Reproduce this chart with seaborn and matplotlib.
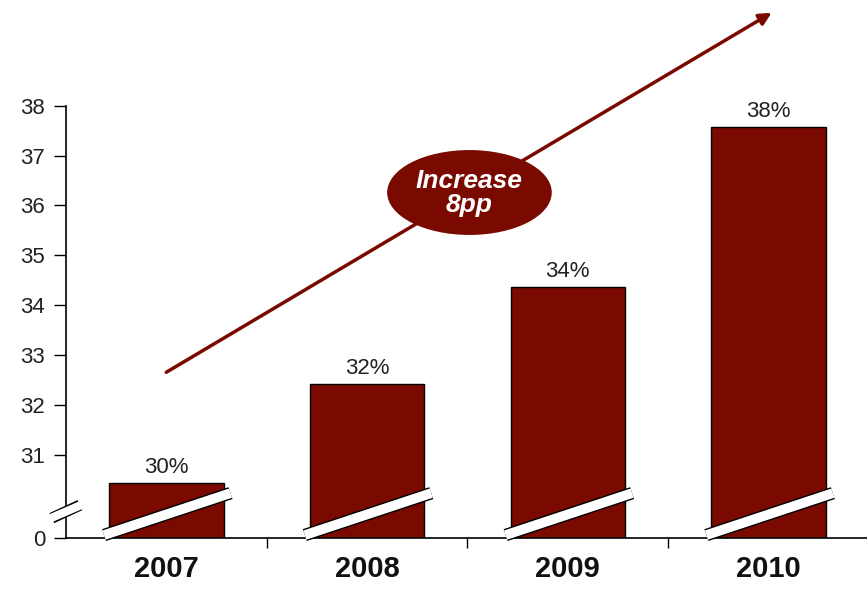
import numpy as np
import pandas as pd
import seaborn as sns
import matplotlib
matplotlib.use("Agg")
import matplotlib.pyplot as plt
from matplotlib.patches import Ellipse

# chart data
years = ["2007", "2008", "2009", "2010"]
share = [30.44, 32.42, 34.36, 37.58]
share_labels = ["30%", "32%", "34%", "38%"]
ytick_vals = [31, 32, 33, 34, 35, 36, 37, 38]
break_pos = 29.34   # where the "0" tick sits on the broken axis

bar_color = "#7a0a00"

sns.set_theme(style="white")
plt.rcParams['font.family'] = ['Liberation Sans', 'DejaVu Sans']

df = pd.DataFrame({"year": years, "share": share})

fig = plt.figure(figsize=(8.67, 5.90), dpi=100)
ax = fig.add_axes([0.076, 0.088, 0.924, 0.733])

sns.barplot(data=df, x="year", y="share", color=bar_color, saturation=1,
            width=0.57, edgecolor="black", linewidth=1.0, ax=ax)

ax.set_xlim(-0.5, 3.49)
ax.set_ylim(break_pos, 38)

# value labels
for i, (v, lab) in enumerate(zip(share, share_labels)):
    ax.text(i, v + 0.1, lab, ha="center", va="bottom", fontsize=16, color="#222222")

# break bands across bars
for i in range(len(years)):
    xs = [i - 0.31, i + 0.32]
    ys = [29.40, 30.24]
    ax.plot(xs, ys, color="black", lw=9, solid_capstyle="butt", clip_on=False, zorder=4)
    ax.plot(xs, ys, color="white", lw=7, solid_capstyle="butt", clip_on=False, zorder=5)

# break mark on y-axis
ax.plot([-0.57, -0.43], [29.74, 30.00], color="black", lw=8, solid_capstyle="butt",
        clip_on=False, zorder=4)
ax.plot([-0.58, -0.42], [29.73, 30.01], color="white", lw=6, solid_capstyle="butt",
        clip_on=False, zorder=5)

# trend arrow
ax.annotate("", xy=(3.015, 39.86), xytext=(0.0, 32.66),
            arrowprops=dict(arrowstyle="-|>", color=bar_color, lw=2.5,
                            mutation_scale=18, shrinkA=0, shrinkB=0),
            annotation_clip=False, zorder=6)

ell = Ellipse((1.51, 36.26), width=0.82, height=1.7, facecolor=bar_color,
              edgecolor="none", zorder=7, clip_on=False)
ax.add_patch(ell)
ax.text(1.51, 36.26, "Increase\n8pp", ha="center", va="center", color="white",
        fontsize=19, fontweight="bold", fontstyle="italic", linespacing=1.0, zorder=8)

# axes styling
ax.set_yticks([break_pos] + ytick_vals)
ax.set_yticklabels(["0"] + [str(t) for t in ytick_vals], fontsize=16, color="#222222")
ax.set_xticks(range(len(years)))
ax.set_xticklabels(years, fontsize=21, fontweight="bold", color="#111111")
ax.set_xticks([0.5, 1.5, 2.5], minor=True)
ax.tick_params(axis="x", which="major", bottom=False, length=0, pad=12)
ax.tick_params(axis="x", which="minor", bottom=True, length=7, width=1,
               color="black", direction="out")
ax.tick_params(axis="y", left=True, length=9, width=1, color="black",
               direction="out", pad=6)
ax.set_xlabel("")
ax.set_ylabel("")

sns.despine(ax=ax)
for s in ["left", "bottom"]:
    ax.spines[s].set_color("black")
    ax.spines[s].set_linewidth(1.2)

fig.savefig("out.png", dpi=100)
